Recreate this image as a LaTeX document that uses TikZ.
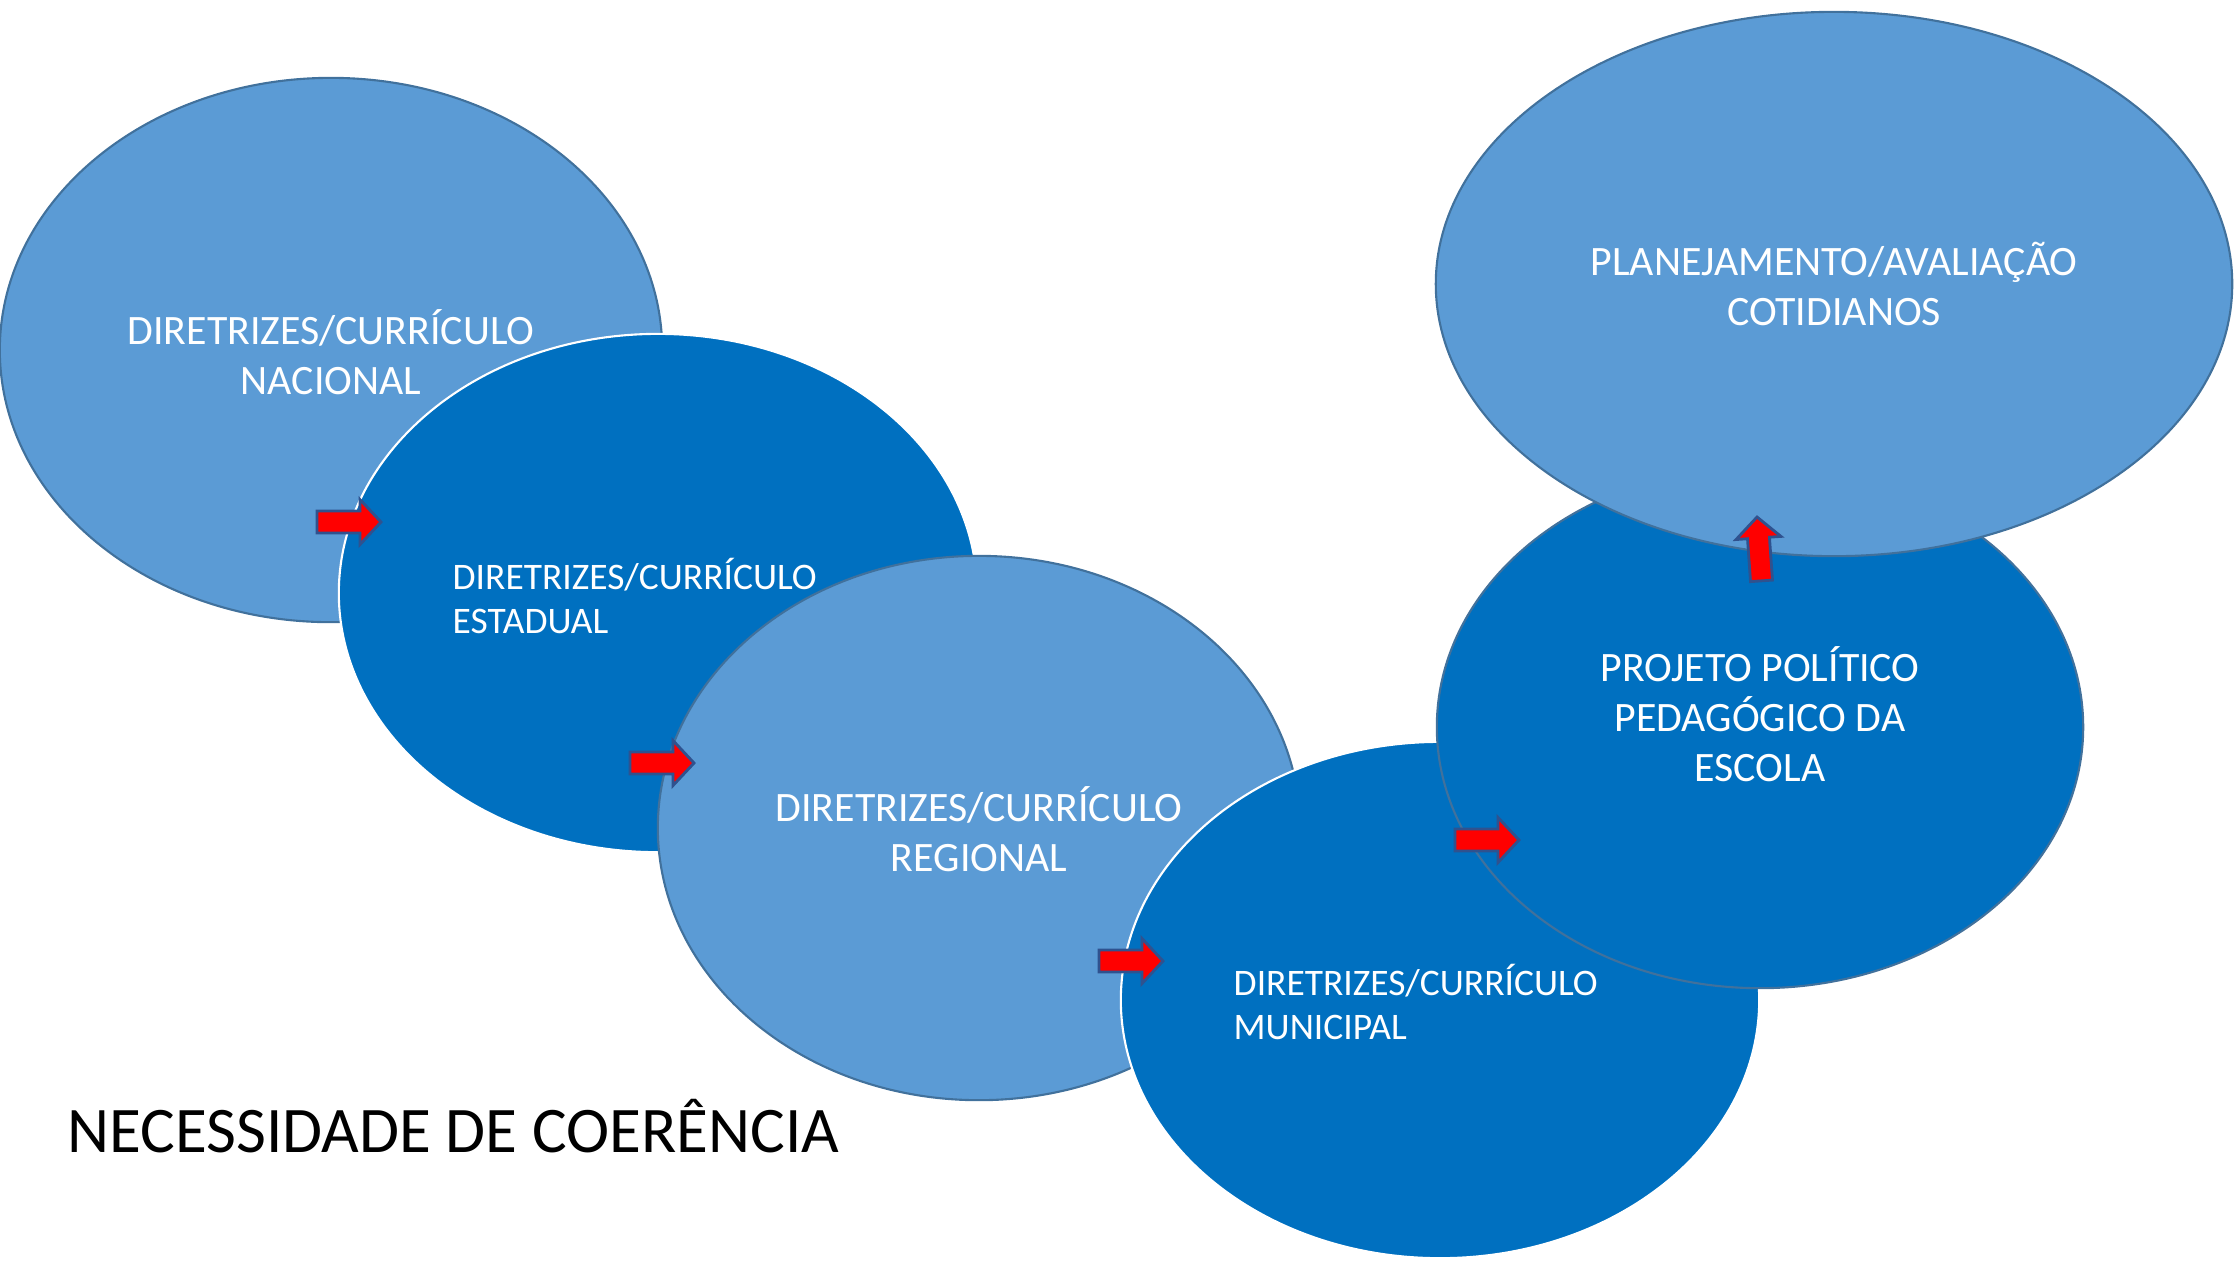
\documentclass[tikz,border=0pt]{standalone}
\usepackage{fontspec}
\setmainfont{Carlito}
\usetikzlibrary{shapes.geometric}
\definecolor{lightblue}{HTML}{5B9BD5}
\definecolor{darkblue}{HTML}{0070C0}
\definecolor{rimblue}{HTML}{41719C}
\definecolor{arrowrim}{HTML}{2F528F}
\tikzset{
  lightbubble/.style={ellipse, fill=lightblue, draw=rimblue, line width=0.6pt, inner sep=0pt},
  darkbubble/.style={ellipse, fill=darkblue, draw=white, line width=0.6pt, inner sep=0pt},
  bigtext/.style={text=white, align=center, font=\fontsize{11.9}{14.2}\selectfont},
  smalltext/.style={text=white, align=left, inner sep=0pt, anchor=base west, font=\fontsize{10.65}{12.5}\selectfont},
  redarrow/.style={fill=red, draw=arrowrim, line width=0.8pt, line join=miter}
}
\begin{document}
\begin{tikzpicture}[x=0.01cm, y=-0.01cm]
            \useasboundingbox (0,0) rectangle (2234,1262);
            % ellipses, back to front
            \node[lightbubble, minimum width=6.62cm, minimum height=5.44cm] (nacional) at (331,350) {};
            \node[darkbubble, minimum width=6.38cm, minimum height=5.18cm] (estadual) at (658,593) {};
            \node[lightbubble, minimum width=6.42cm, minimum height=5.44cm] (regional) at (979,828) {};
            \node[darkbubble, minimum width=6.38cm, minimum height=5.16cm] (municipal) at (1440,1000) {};
            \node[darkbubble, draw=rimblue, minimum width=6.46cm, minimum height=5.22cm] (ppp) at (1760,727) {};
            \node[lightbubble, minimum width=7.96cm, minimum height=5.44cm] (planejamento) at (1834,284) {};
            % texts (smalltext is anchored on its last line)
            \node[bigtext] (nacionaltxt) at (331,352) {DIRETRIZES/CURRÍCULO\\NACIONAL};
            \node[smalltext] (estadualtxt) at (452,633) {DIRETRIZES/CURRÍCULO\\ESTADUAL};
            \node[bigtext] (regionaltxt) at (979,829) {DIRETRIZES/CURRÍCULO\\REGIONAL};
            \node[smalltext] (municipaltxt) at (1233,1039) {DIRETRIZES/CURRÍCULO\\MUNICIPAL};
            \node[bigtext] (ppptxt) at (1760,714) {PROJETO POLÍTICO\\PEDAGÓGICO DA\\ESCOLA};
            \node[bigtext] (planejamentotxt) at (1834,284) {PLANEJAMENTO/AVALIAÇÃO\\COTIDIANOS};
            \node[anchor=base west, inner sep=0pt, font=\fontsize{18.5}{22}\selectfont] (coerencia) at (67,1152) {NECESSIDADE DE COERÊNCIA};
            % red block arrows
            \foreach \x/\y/\a in {381/522/0, 694/763/0, 1163/961/0, 1519/840/0, 1757/517/94}
              \draw[redarrow, shift={(\x,\y)}, rotate=\a] (0,0) -- (-21,-22.5) -- (-21,-11) -- (-64,-11) -- (-64,11) -- (-21,11) -- (-21,22.5) -- cycle;
        \end{tikzpicture}
\end{document}
